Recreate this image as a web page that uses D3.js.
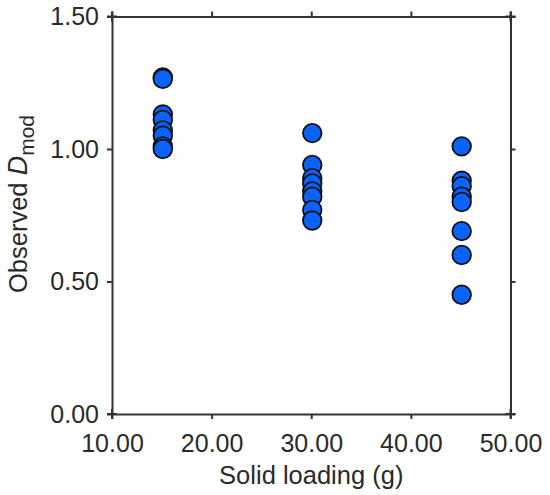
<!DOCTYPE html>
<html><head><meta charset="utf-8">
<script src="https://cdn.jsdelivr.net/npm/d3@7"></script>
<style>body{margin:0;background:#fff}svg{display:block}text{font-family:"Liberation Sans",Arial,sans-serif;fill:#2a2a2a}</style>
</head><body><svg id="c" width="550" height="495"></svg>
<script>
const xGroups = [15.1, 30.1, 45.1];
const yGroup1 = [1.27, 1.265, 1.13, 1.11, 1.07, 1.05, 1.01, 1.00];
const yGroup2 = [1.06, 0.94, 0.89, 0.87, 0.84, 0.82, 0.77, 0.73];
const yGroup3 = [1.01, 0.88, 0.86, 0.82, 0.80, 0.69, 0.60, 0.45];
const xTicks = [10, 20, 30, 40, 50];
const yTicks = [0, 0.5, 1.0, 1.5];

const data = [];
[yGroup1, yGroup2, yGroup3].forEach((g, i) => g.forEach(v => data.push({x: xGroups[i], y: v})));

const svg = d3.select("#c");
const L = 112, R = 510.5, T = 16.5, B = 414;
const x = d3.scaleLinear().domain([10, 50]).range([L, R]);
const y = d3.scaleLinear().domain([0, 1.5]).range([B, T]);
const fmt = d3.format(".2f");
const col = "#333";
const tc = "#2a2a2a";

function style(g){
  g.select(".domain").attr("stroke", col).attr("stroke-width", 2);
  g.selectAll(".tick line").attr("stroke", col).attr("stroke-width", 2);
}
svg.append("g").attr("transform", `translate(0,${B})`)
  .call(d3.axisBottom(x).tickValues(xTicks).tickFormat(fmt).tickSize(5).tickSizeOuter(0).tickPadding(15))
  .call(style).call(g => g.selectAll("text").attr("font-size", 25).attr("fill", tc));
svg.append("g").attr("transform", `translate(0,${T})`)
  .call(d3.axisTop(x).tickValues(xTicks).tickFormat("").tickSize(5).tickSizeOuter(0)).call(style);
svg.append("g").attr("transform", `translate(${L},0)`)
  .call(d3.axisLeft(y).tickValues(yTicks).tickFormat(fmt).tickSize(5).tickSizeOuter(0).tickPadding(8))
  .call(style).call(g => g.selectAll("text").attr("font-size", 25).attr("fill", tc));
svg.append("g").attr("transform", `translate(${R},0)`)
  .call(d3.axisRight(y).tickValues(yTicks).tickFormat("").tickSize(5).tickSizeOuter(0)).call(style);
[[L,T],[R,T],[L,B],[R,B]].forEach(([cx,cy]) => {
  svg.append("line").attr("x1", cx-5).attr("x2", cx+5).attr("y1", cy).attr("y2", cy).attr("stroke", col).attr("stroke-width", 2);
  svg.append("line").attr("x1", cx).attr("x2", cx).attr("y1", cy-5).attr("y2", cy+5).attr("stroke", col).attr("stroke-width", 2);
});

svg.append("g").selectAll("circle").data(data).join("circle")
  .attr("cx", d => x(d.x)).attr("cy", d => y(d.y)).attr("r", 9.3)
  .attr("fill", "#0a63ff").attr("stroke", "#111").attr("stroke-width", 1.8);

svg.append("text").attr("x", (L+R)/2).attr("y", 484).attr("text-anchor", "middle").attr("font-size", 25.5).text("Solid loading (g)");
const yl = svg.append("text").attr("transform", "translate(27,204) rotate(-90)").attr("text-anchor", "middle").attr("font-size", 25.5);
yl.append("tspan").text("Observed ");
yl.append("tspan").attr("font-style", "italic").attr("font-size", 27).text("D");
yl.append("tspan").attr("font-size", 21).attr("dy", 7).text("mod");
</script></body></html>
